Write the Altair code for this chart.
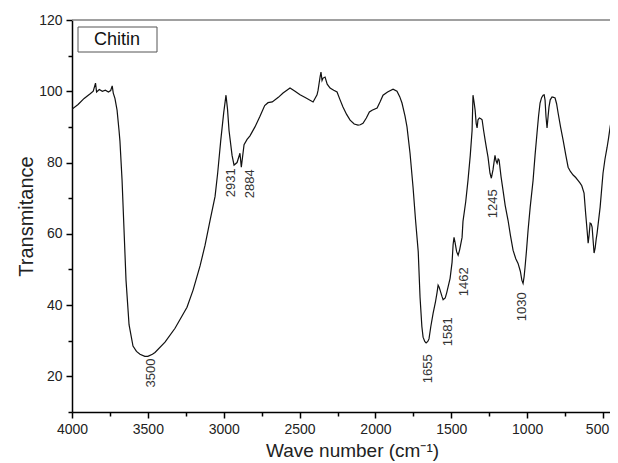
import altair as alt
import pandas as pd

# FTIR spectrum of chitin (wave number in cm-1, transmittance)
wave = [3999, 3960, 3920, 3880, 3860, 3845, 3838, 3820, 3800, 3780, 3760, 3745, 3735, 3728,
        3717, 3703, 3690, 3684, 3670, 3657, 3644, 3624, 3598, 3575, 3552, 3520, 3500, 3470,
        3453, 3387, 3321, 3242, 3202, 3156, 3123, 3090, 3057, 3040, 3020, 3000, 2985, 2975,
        2965, 2945, 2932, 2912, 2893, 2884, 2866, 2846, 2827, 2794, 2761, 2730, 2708, 2680,
        2640, 2609, 2563, 2530, 2497, 2460, 2411, 2385, 2378, 2365, 2359, 2352, 2345, 2332,
        2318, 2299, 2275, 2253, 2235, 2214, 2190, 2167, 2140, 2115, 2100, 2082, 2060, 2040,
        2022, 1989, 1970, 1950, 1920, 1884, 1858, 1840, 1825, 1805, 1792, 1772, 1752, 1736,
        1730, 1718, 1706, 1694, 1686, 1675, 1666, 1655, 1647, 1635, 1620, 1604, 1594, 1587,
        1580, 1574, 1562, 1554, 1540, 1530, 1508, 1495, 1488, 1482, 1475, 1465, 1455, 1445,
        1429, 1423, 1405, 1390, 1375, 1363, 1357, 1350, 1343, 1336, 1330, 1324, 1315, 1305,
        1297, 1287, 1277, 1268, 1258, 1245, 1236, 1225, 1212, 1205, 1198, 1191, 1185, 1172,
        1159, 1145, 1126, 1110, 1093, 1075, 1060, 1045, 1035, 1027, 1020, 1014, 1005, 994,
        980, 961, 948, 935, 925, 915, 905, 895, 888, 882, 876, 869, 862, 856, 848, 836, 826,
        816, 806, 796, 780, 763, 745, 730, 715, 697, 680, 665, 651, 640, 625, 615, 605, 598,
        592, 585, 578, 572, 565, 559, 552, 545, 539, 530, 519, 510, 500, 487, 473, 463, 453,
        443, 434, 427, 420, 415, 412, 407, 404, 402, 401, 400]
trans = [95.0, 96.3, 98.0, 99.3, 100.0, 102.3, 99.8, 100.5, 100.0, 100.3, 99.8, 100.2, 101.5, 99.5,
         98.0, 94.7, 89.0, 86.0, 75.0, 61.0, 47.0, 34.5, 28.5, 27.0, 26.2, 25.6, 25.6, 26.2,
         26.7, 29.6, 33.5, 39.4, 44.2, 51.0, 56.8, 63.8, 70.5, 77.0, 86.0, 94.0, 98.9, 95.0,
         89.0, 82.0, 79.3, 80.0, 82.6, 78.7, 85.0, 86.5, 87.5, 90.0, 93.0, 96.0, 96.8, 97.0,
         98.3, 99.5, 100.9, 100.0, 99.0, 98.2, 97.0, 99.0, 100.3, 104.0, 105.4, 103.0, 103.7, 104.0,
         102.0, 100.9, 100.3, 99.8, 97.8, 95.6, 93.5, 91.9, 90.8, 90.5, 90.6, 91.0, 92.5, 94.2,
         94.7, 95.3, 97.0, 98.9, 99.8, 100.6, 100.0, 98.5, 96.7, 93.0, 90.0, 82.6, 73.0, 64.0,
         61.0, 55.0, 42.2, 34.0, 31.0, 29.8, 29.4, 29.8, 30.5, 34.0, 37.7, 41.0, 43.5, 45.6,
         45.0, 44.2, 42.5, 41.5, 42.0, 43.5, 47.5, 52.0, 57.0, 59.0, 57.5, 55.0, 54.0, 55.5,
         59.0, 63.5, 69.0, 75.0, 82.0, 89.0, 98.9, 97.0, 94.7, 91.0, 89.7, 92.0, 92.5, 92.3,
         92.0, 89.0, 86.3, 84.0, 81.5, 77.0, 75.6, 78.0, 82.0, 80.5, 79.8, 81.0, 80.7, 76.0,
         72.2, 68.0, 63.8, 59.5, 55.4, 53.0, 51.7, 49.5, 47.0, 46.1, 48.0, 50.6, 55.0, 61.0,
         67.5, 75.0, 82.0, 88.3, 93.0, 96.7, 98.2, 98.9, 99.0, 97.5, 93.0, 89.7, 93.0, 95.6, 97.6, 98.4, 98.3,
         98.1, 96.5, 93.9, 90.0, 86.3, 82.0, 78.7, 77.5, 76.5, 75.8, 75.0, 74.2, 73.5, 71.4, 66.0, 61.0, 57.4,
         59.5, 63.0, 62.8, 61.9, 58.0, 54.6, 56.0, 58.5, 60.2, 63.5, 67.5, 72.0, 77.0, 81.0, 84.3, 87.0, 90.0,
         92.5, 94.7, 96.0, 97.5, 96.0, 99.0, 101.2, 100.0, 104.0, 87.0, 105.0]

# peak annotations
peak_labels = ["3500", "2931", "2884", "1655", "1581", "1462", "1245", "1030"]
peak_x = [3479, 2952, 2827, 1653, 1521, 1416, 1225, 1034]
peak_y = [25.0, 78.4, 78.1, 26.2, 36.6, 50.6, 72.5, 43.6]

legend_label = ["Chitin"]

x_ticks = list(range(4000, 499, -250))
y_ticks = list(range(10, 121, 10))

spec = pd.DataFrame({"wave": wave, "trans": trans})
peaks = pd.DataFrame({"wave": peak_x, "trans": peak_y, "label": peak_labels})
legend_df = pd.DataFrame({"label": legend_label})

W, H = 538, 392

x_scale = alt.Scale(domain=[4000, 454], nice=False, zero=False)
y_scale = alt.Scale(domain=[10, 120], nice=False, zero=False)

x_axis = alt.Axis(
    title="Wave number (cm⁻¹)",
    titleX=280,
    values=x_ticks,
    format="d",
    labelExpr="datum.value % 500 === 0 ? datum.label : ''",
    tickSize={"condition": {"test": "datum.value % 500 === 0", "value": 6}, "value": 4},
    labelOffset={"condition": {"test": "datum.value === 500", "value": -6}, "value": 0},
    labelFlush=False,
    labelOverlap=False,
    grid=False,
)
y_axis = alt.Axis(
    title="Transmitance",
    values=y_ticks,
    format="d",
    labelExpr="datum.value % 20 === 0 ? datum.label : ''",
    tickSize={"condition": {"test": "datum.value % 20 === 0", "value": 6}, "value": 4},
    labelOverlap=False,
    labelFlush=False,
    grid=False,
)

line = alt.Chart(spec).mark_line(color="#111111", strokeWidth=1.2, clip=True).encode(
    x=alt.X("wave:Q", scale=x_scale, axis=x_axis),
    y=alt.Y("trans:Q", scale=y_scale, axis=y_axis),
    order=alt.Order("wave:Q", sort="descending"),
)

ann = alt.Chart(peaks).mark_text(
    angle=270, align="right", baseline="middle", fontSize=13,
    font="Liberation Sans", color="#333333",
).encode(
    x=alt.X("wave:Q", scale=x_scale, axis=x_axis),
    y=alt.Y("trans:Q", scale=y_scale, axis=y_axis),
    text="label:N",
)

top_frame = alt.Chart(legend_df).mark_rule(color="#808080", strokeWidth=1.5).encode(
    x=alt.value(0), x2=alt.value(W), y=alt.value(0)
)

legend_box = alt.Chart(legend_df).mark_rect(
    fill="white", stroke="#555555", strokeWidth=1
).encode(
    x=alt.value(6), x2=alt.value(85), y=alt.value(7), y2=alt.value(32)
)
legend_text = alt.Chart(legend_df).mark_text(
    fontSize=18, font="Liberation Sans", color="#111111", align="center", baseline="middle"
).encode(
    x=alt.value(45), y=alt.value(20), text="label:N"
)

chart = alt.layer(line, ann, top_frame, legend_box, legend_text).properties(
    width=W, height=H,
    autosize=alt.AutoSizeParams(type="none"),
    padding={"left": 64, "top": 12, "right": 0, "bottom": 50},
).configure_view(stroke=None).configure_axis(
    domainColor="#000000", domainWidth=1.5,
    tickColor="#000000", tickWidth=1.5,
    labelFont="Liberation Sans", labelFontSize=14, labelColor="#222222", labelPadding=4,
    titleFont="Liberation Sans",
    titleFontSize=20, titleColor="#222222", titleFontWeight="normal",
).configure_axisX(titlePadding=5, titleFontSize=19).configure_axisY(titlePadding=2)

chart.save("out.html", embed_options={"renderer": "svg", "actions": False})
